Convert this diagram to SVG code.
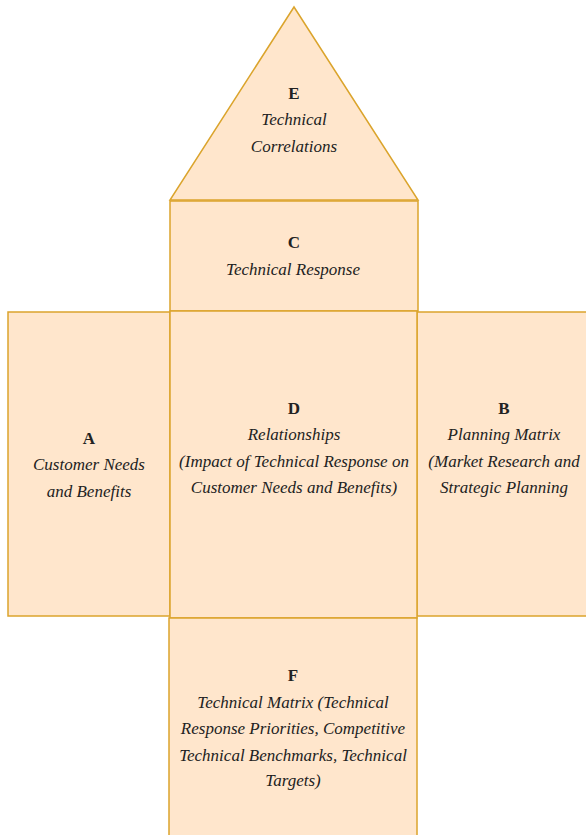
<svg xmlns="http://www.w3.org/2000/svg" width="586" height="835" viewBox="0 0 586 835">
<style>
.n{fill:#ffe6cc;stroke:#dba42c;stroke-width:1.5}
text{font-family:"Liberation Serif","DejaVu Serif",serif;font-size:17px;fill:#222;text-anchor:middle}
.h{font-weight:bold}
.i{font-style:italic}
</style>
<rect width="586" height="835" fill="#ffffff"/>
<g id="E">
<polygon class="n" points="294,7 418,200 170,200"/>
<text class="h" x="294" y="99">E</text>
<text class="i" x="294" y="125">Technical</text>
<text class="i" x="294" y="152">Correlations</text>
</g>
<g id="C">
<rect class="n" x="170" y="201" width="248" height="110"/>
<text class="h" x="294" y="248">C</text>
<text class="i" x="293" y="275">Technical Response</text>
</g>
<g id="A">
<rect class="n" x="8" y="312" width="162" height="304"/>
<text class="h" x="89" y="444">A</text>
<text class="i" x="89" y="470">Customer Needs</text>
<text class="i" x="89" y="497">and Benefits</text>
</g>
<g id="B">
<rect class="n" x="417" y="312" width="175" height="304"/>
<text class="h" x="504" y="414">B</text>
<text class="i" x="504" y="440">Planning Matrix</text>
<text class="i" x="504" y="467">(Market Research and</text>
<text class="i" x="504" y="493">Strategic Planning</text>
</g>
<g id="D">
<rect class="n" x="170" y="311" width="247" height="307"/>
<text class="h" x="294" y="414">D</text>
<text class="i" x="294" y="440">Relationships</text>
<text class="i" x="294" y="467">(Impact of Technical Response on</text>
<text class="i" x="294" y="493">Customer Needs and Benefits)</text>
</g>
<g id="F">
<rect class="n" x="169" y="618" width="248" height="225"/>
<text class="h" x="293" y="681">F</text>
<text class="i" x="293" y="708">Technical Matrix (Technical</text>
<text class="i" x="293" y="734">Response Priorities, Competitive</text>
<text class="i" x="293" y="761">Technical Benchmarks, Technical</text>
<text class="i" x="293" y="786">Targets)</text>
</g>
<g id="connectors"/>
</svg>
